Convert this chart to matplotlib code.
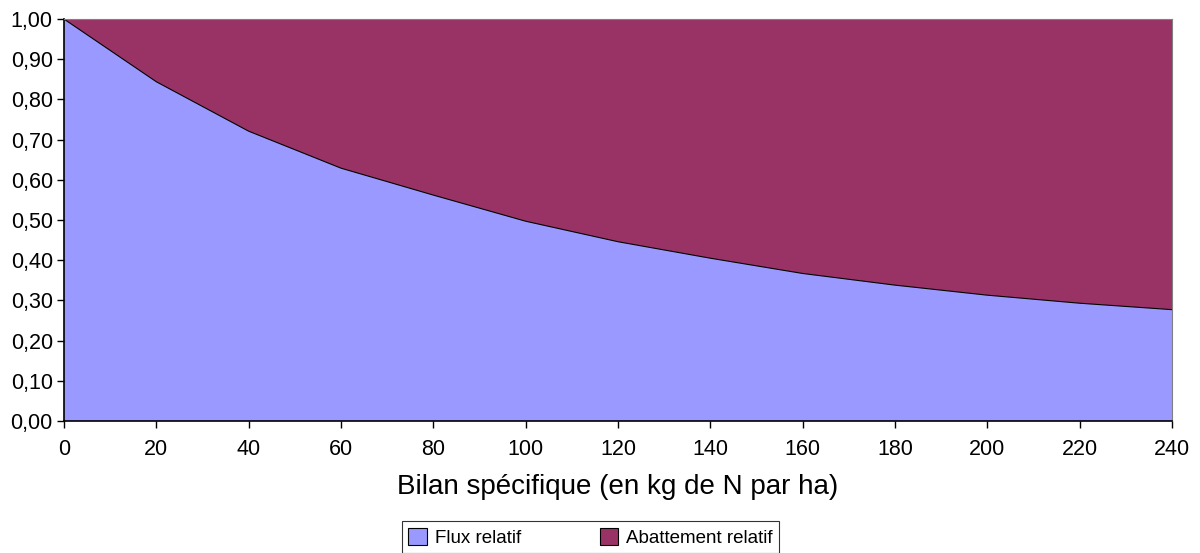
import matplotlib.pyplot as plt
import numpy as np

plt.rcParams['font.family'] = ['Liberation Sans', 'DejaVu Sans']

# bilan specifique (kg N / ha)
bilan = [0, 20, 40, 60, 80, 100, 120, 140, 160, 180, 200, 220, 240]
flux = [1.00, 0.844, 0.721, 0.629, 0.562, 0.497, 0.446, 0.405, 0.367, 0.338, 0.313, 0.293, 0.277]
abattement = [1 - f for f in flux]

fig = plt.figure(figsize=(12, 5.53), dpi=100)
ax = fig.add_axes([0.0533, 0.2387, 0.9234, 0.7269])

ax.stackplot(bilan, flux, abattement, colors=['#9999FF', '#993366'],
             labels=['Flux relatif', 'Abattement relatif'])
ax.plot(bilan, flux, color='black', lw=0.8)

ax.set_xlim(0, 240)
ax.set_ylim(0, 1)
ax.set_xticks(np.arange(0, 241, 20))
ax.set_yticks(np.arange(0, 1.01, 0.1))
ax.set_yticklabels([f'{v:.2f}'.replace('.', ',') for v in np.arange(0, 1.01, 0.1)])
ax.tick_params(labelsize=15.5, direction='out', length=5, width=1, colors='black')
ax.tick_params(axis='x', pad=8)
ax.tick_params(axis='y', pad=3)

for s in ['top', 'right']:
    ax.spines[s].set_color('#808080')
for s in ['left', 'bottom']:
    ax.spines[s].set_color('black')
    ax.spines[s].set_linewidth(1.2)

ax.set_xlabel('Bilan spécifique (en kg de N par ha)', fontsize=20, labelpad=10)

h, l = ax.get_legend_handles_labels()
leg = fig.legend(h, l, loc='center', bbox_to_anchor=(0.492, 0.0285), ncol=2,
                 fontsize=13.5, frameon=True, fancybox=False, edgecolor='black',
                 columnspacing=4.2, handlelength=1.0, handleheight=1.0,
                 handletextpad=0.4, borderpad=0.35)
leg.get_frame().set_linewidth(0.8)
for p in leg.get_patches():
    p.set_edgecolor('black')
    p.set_linewidth(0.8)

fig.savefig('out.png', dpi=100)
